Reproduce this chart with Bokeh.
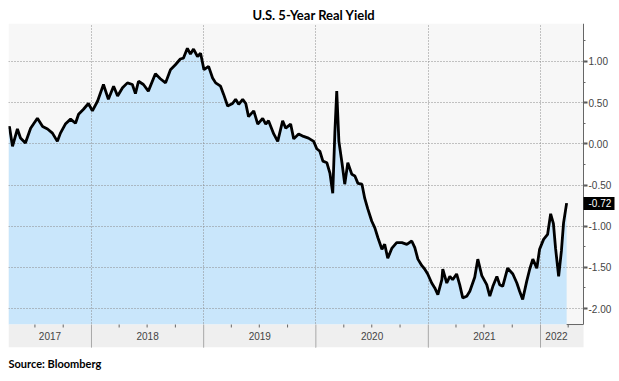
import pandas as pd
from bokeh.plotting import figure
from bokeh.models import (Range1d, Grid, FixedTicker, SingleIntervalTicker, LinearAxis, Title,
                          NumeralTickFormatter, BoxAnnotation, ColumnDataSource)
from bokeh.core.properties import value
from bokeh.embed import file_html
from bokeh.resources import INLINE

title_text = "U.S. 5-Year Real Yield"
source_text = "Source: Bloomberg"

dates = [
    "2017-04-06", "2017-04-09", "2017-04-19", "2017-05-05", "2017-05-15", "2017-05-31",
    "2017-06-17", "2017-07-09", "2017-07-26", "2017-08-11", "2017-08-27", "2017-09-12",
    "2017-09-22", "2017-10-08", "2017-10-25", "2017-11-10", "2017-11-20", "2017-12-06",
    "2017-12-22", "2018-01-04", "2018-01-21", "2018-02-09", "2018-02-25", "2018-03-14",
    "2018-03-27", "2018-04-12", "2018-04-28", "2018-05-14", "2018-05-24", "2018-06-03",
    "2018-06-19", "2018-07-05", "2018-07-28", "2018-08-13", "2018-08-30", "2018-09-15",
    "2018-10-01", "2018-10-17", "2018-10-27", "2018-11-09", "2018-11-19", "2018-11-29",
    "2018-12-12", "2018-12-22", "2019-01-02", "2019-01-17", "2019-01-30", "2019-02-09",
    "2019-02-25", "2019-03-07", "2019-03-20", "2019-04-05", "2019-04-15", "2019-04-25",
    "2019-05-08", "2019-05-18", "2019-05-27", "2019-06-13", "2019-06-26", "2019-07-12",
    "2019-07-22", "2019-07-31", "2019-08-17", "2019-08-30", "2019-09-15", "2019-09-25",
    "2019-10-11", "2019-10-21", "2019-11-06", "2019-11-22", "2019-12-08", "2019-12-25",
    "2020-01-04", "2020-01-14", "2020-01-24", "2020-02-06", "2020-02-16", "2020-02-25",
    "2020-03-03", "2020-03-09", "2020-03-16", "2020-03-26", "2020-04-04", "2020-04-14",
    "2020-04-27", "2020-05-07", "2020-05-17", "2020-05-30", "2020-06-08", "2020-06-18",
    "2020-07-01", "2020-07-11", "2020-07-21", "2020-08-03", "2020-08-12", "2020-08-22",
    "2020-09-04", "2020-09-20", "2020-10-07", "2020-10-23", "2020-11-08", "2020-11-18",
    "2020-11-28", "2020-12-11", "2020-12-20", "2020-12-30", "2021-01-12", "2021-01-22",
    "2021-02-01", "2021-02-14", "2021-02-17", "2021-03-02", "2021-03-12", "2021-03-21",
    "2021-04-03", "2021-04-13", "2021-04-23", "2021-05-06", "2021-05-16", "2021-06-01",
    "2021-06-11", "2021-06-24", "2021-07-10", "2021-07-20", "2021-07-30", "2021-08-12",
    "2021-08-21", "2021-08-31", "2021-09-16", "2021-10-03", "2021-10-16", "2021-10-25",
    "2021-11-04", "2021-11-17", "2021-11-27", "2021-12-07", "2021-12-20", "2021-12-29",
    "2022-01-11", "2022-01-24", "2022-02-03", "2022-02-12", "2022-02-19", "2022-03-01",
    "2022-03-10", "2022-03-17", "2022-03-27",
]
yields = [
    0.18, 0.21, -0.03, 0.18, 0.07, 0.01,
    0.19, 0.31, 0.21, 0.18, 0.13, 0.03,
    0.13, 0.24, 0.30, 0.25, 0.36, 0.42,
    0.49, 0.40, 0.52, 0.72, 0.54, 0.70,
    0.58, 0.68, 0.74, 0.72, 0.61, 0.76,
    0.72, 0.64, 0.85, 0.79, 0.74, 0.90,
    0.96, 1.03, 1.04, 1.16, 1.09, 1.15,
    1.06, 1.10, 0.90, 0.94, 0.80, 0.74,
    0.70, 0.60, 0.46, 0.49, 0.54, 0.48,
    0.54, 0.49, 0.33, 0.40, 0.24, 0.31,
    0.24, 0.28, 0.12, 0.03, 0.28, 0.19,
    0.24, 0.06, 0.12, 0.09, 0.07, 0.03,
    -0.06, -0.09, -0.21, -0.23, -0.36, -0.60,
    0.15, 0.64, 0.03, -0.23, -0.49, -0.23,
    -0.37, -0.39, -0.48, -0.49, -0.66, -0.79,
    -0.94, -1.02, -1.14, -1.28, -1.22, -1.39,
    -1.27, -1.20, -1.20, -1.22, -1.18, -1.26,
    -1.40, -1.48, -1.52, -1.58, -1.69, -1.75,
    -1.83, -1.65, -1.52, -1.69, -1.61, -1.65,
    -1.58, -1.71, -1.87, -1.85, -1.79, -1.62,
    -1.40, -1.60, -1.71, -1.85, -1.73, -1.61,
    -1.71, -1.73, -1.51, -1.58, -1.69, -1.79,
    -1.89, -1.67, -1.52, -1.40, -1.51, -1.28,
    -1.16, -1.10, -0.85, -0.97, -1.27, -1.61,
    -1.30, -0.96, -0.72,
]

year_labels = ["2017", "2018", "2019", "2020", "2021", "2022"]
year_starts = ["2018-01-01", "2019-01-01", "2020-01-01", "2021-01-01", "2022-01-01"]
quarter_ticks = [
    "2017-07-01", "2017-10-01", "2018-04-01", "2018-07-01", "2018-10-01",
    "2019-04-01", "2019-07-01", "2019-10-01", "2020-04-01", "2020-07-01", "2020-10-01",
    "2021-04-01", "2021-07-01", "2021-10-01", "2022-04-01",
]
x_start = "2017-04-06"
axis_at = "2022-05-21"      # where the value axis sits
x_end = "2022-09-15"        # frame runs on under the axis labels
label_end = "2022-04-15"
y_low, y_high = -2.473, 1.461
fill_floor = -2.194


def ms(d):
    return pd.Timestamp(d).value / 1e6


xs = pd.to_datetime(dates)
src = ColumnDataSource(dict(x=xs, y=yields))

p = figure(width=619, height=381, x_axis_type="datetime", x_axis_location=None,
           y_axis_location=None,
           x_range=Range1d(pd.Timestamp(x_start), pd.Timestamp(x_end)),
           y_range=Range1d(y_low, y_high),
           output_backend="svg", toolbar_location=None,
           min_border_left=8, min_border_top=23, min_border_bottom=34, min_border_right=0,
           background_fill_color="white", border_fill_color="white",
           outline_line_color=None)
p.grid.visible = False

# plot-area background (left of the value axis), then the filled area
p.quad(left=[pd.Timestamp(x_start)], right=[pd.Timestamp(axis_at)], bottom=[fill_floor],
       top=[y_high], fill_color="#f7f7f7", line_color=None, level="image")
p.varea(x="x", y1=fill_floor, y2="y", source=src, fill_color="#c9e6fb", level="image")

xg = Grid(dimension=0, ticker=FixedTicker(ticks=[ms(d) for d in year_starts]),
          grid_line_color="#8a8a8a", grid_line_dash="1 2")
yg = Grid(dimension=1, ticker=SingleIntervalTicker(interval=0.5),
          grid_line_color="#8a8a8a", grid_line_dash="1 2")
p.add_layout(xg)
p.add_layout(yg)
# white strip right of the value axis hides the grid there
p.add_layout(BoxAnnotation(left=ms(axis_at), fill_color="white", fill_alpha=1.0,
                           line_color=None, level="underlay"))

p.line("x", "y", source=src, line_color="black", line_width=2.8)

# bottom time band
p.add_layout(BoxAnnotation(top=fill_floor, right=ms(axis_at), fill_color="#efefef",
                           fill_alpha=1.0, line_color=None))
ys = pd.to_datetime(year_starts)
p.segment(x0=ys, y0=[y_low] * len(ys), x1=ys, y1=[fill_floor] * len(ys),
          line_color="#a8a8a8", line_width=1, level="overlay")
qs = pd.to_datetime(quarter_ticks)
p.segment(x0=qs, y0=[fill_floor] * len(qs), x1=qs, y1=[fill_floor - 0.036] * len(qs),
          line_color="#666666", line_width=1, level="overlay")
p.segment(x0=[xs[-1]], y0=[fill_floor], x1=[pd.Timestamp(axis_at)], y1=[fill_floor],
          line_color="#666666", line_width=1, level="overlay")

bounds = [pd.Timestamp(x_start)] + list(ys) + [pd.Timestamp(label_end)]
mids = [bounds[i] + (bounds[i + 1] - bounds[i]) / 2 for i in range(len(year_labels))]
p.text(x=mids, y=[(y_low + fill_floor) / 2] * len(mids), text=year_labels,
       text_align="center", text_baseline="middle", text_font=value("Liberation Sans"),
       text_font_size="10px", text_color="#444444", level="overlay")

# value axis (fixed inside the frame, on its right part)
ax = LinearAxis(fixed_location=ms(axis_at),
                ticker=SingleIntervalTicker(interval=0.5, num_minor_ticks=2),
                formatter=NumeralTickFormatter(format="0.00"))
ax.bounds = (fill_floor, y_high)
ax.axis_line_color = "#666666"
ax.major_tick_in = 0
ax.major_tick_out = 4
ax.major_tick_line_width = 2
ax.major_tick_line_color = "#555555"
ax.minor_tick_in = 0
ax.minor_tick_out = 2
ax.minor_tick_line_color = "#666666"
ax.major_label_standoff = 1
ax.major_label_text_font = "Liberation Sans"
ax.major_label_text_font_size = "10px"
ax.major_label_text_color = "#444444"
p.add_layout(ax, "right")

# last-value marker
vax = LinearAxis(fixed_location=ms(axis_at), ticker=FixedTicker(ticks=[yields[-1]]),
                 formatter=NumeralTickFormatter(format="0.00"))
vax.axis_line_color = None
vax.minor_tick_line_color = None
vax.major_tick_in = 0
vax.major_tick_out = 31
vax.major_tick_line_width = 13
vax.major_tick_line_color = "black"
vax.major_label_standoff = -26
vax.major_label_text_font = "Liberation Sans"
vax.major_label_text_font_size = "10px"
vax.major_label_text_color = "white"
p.add_layout(vax, "right")

p.title = Title(text=title_text, align="center", offset=16, standoff=2,
                text_font="Lato", text_font_style="bold", text_font_size="13px",
                text_color="black")
p.add_layout(Title(text=source_text, align="left", standoff=14, text_font="Lato",
                   text_font_style="bold", text_font_size="11px", text_color="black"),
             "below")

open("out.html", "w").write(file_html(p, INLINE))
